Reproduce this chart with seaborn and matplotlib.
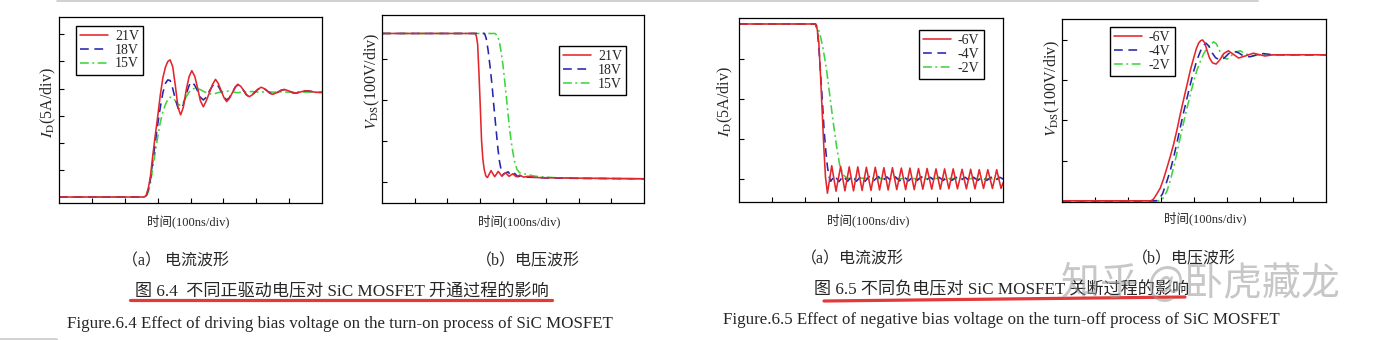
import matplotlib
matplotlib.use("Agg")
import matplotlib.pyplot as plt
import seaborn as sns
from matplotlib.lines import Line2D

# ---------------- data (time in 100 ns divisions, signal in divisions) ----------------
labels_on = ["21V", "18V", "15V"]
labels_off = ["-6V", "-4V", "-2V"]

# Fig 6.4 (a) turn-on drain current I_D (5 A/div)
t_a = [0, 2.60, 2.66, 2.72, 2.78, 2.85, 2.92, 3.00, 3.08, 3.16,
       3.24, 3.31, 3.38, 3.46, 3.54, 3.62, 3.70, 3.78, 3.87, 3.96,
       4.04, 4.13, 4.22, 4.30, 4.39, 4.48, 4.57, 4.67, 4.76, 4.84,
       4.93, 5.02, 5.10, 5.18, 5.27, 5.36, 5.44, 5.53, 5.62, 5.70,
       5.79, 5.88, 5.97, 6.06, 6.15, 6.24, 6.33, 6.41, 6.50, 6.59,
       6.68, 6.76, 6.85, 6.93, 7.02, 7.10, 7.18, 7.27, 7.36, 7.45,
       7.54, 7.65, 7.77, 7.88, 8.00]
id_on_21 = [0, 0, 0.08, 0.35, 0.75, 1.5, 2.2, 2.95, 3.75, 4.4,
            4.8, 5.0, 5.06, 4.8, 4.1, 3.3, 3.03, 3.3, 3.95, 4.45,
            4.66, 4.45, 4.0, 3.55, 3.33, 3.55, 3.83, 4.15, 4.34, 4.2,
            3.93, 3.66, 3.52, 3.63, 3.84, 4.05, 4.16, 4.08, 3.93, 3.77,
            3.70, 3.77, 3.88, 3.98, 4.05, 4.0, 3.92, 3.83, 3.79, 3.83,
            3.88, 3.94, 3.97, 3.94, 3.9, 3.85, 3.83, 3.85, 3.88, 3.91,
            3.92, 3.9, 3.87, 3.86, 3.86]
id_on_18 = [0, 0, 0.06, 0.3, 0.65, 1.3, 1.95, 2.65, 3.3, 3.85,
            4.2, 4.32, 4.3, 4.0, 3.6, 3.28, 3.22, 3.4, 3.8, 4.12,
            4.25, 4.12, 3.9, 3.68, 3.58, 3.68, 3.9, 4.1, 4.19, 4.1,
            3.9, 3.68, 3.58, 3.66, 3.85, 4.05, 4.14, 4.06, 3.92, 3.77,
            3.70, 3.77, 3.88, 3.98, 4.04, 4.0, 3.92, 3.84, 3.79, 3.83,
            3.88, 3.94, 3.96, 3.94, 3.9, 3.85, 3.83, 3.85, 3.88, 3.91,
            3.92, 3.9, 3.87, 3.86, 3.86]
id_on_15 = [0, 0, 0.03, 0.2, 0.5, 1.05, 1.6, 2.2, 2.75, 3.15,
            3.42, 3.6, 3.68, 3.66, 3.55, 3.42, 3.38, 3.48, 3.7, 3.87,
            3.97, 4.01, 4.0, 3.96, 3.9, 3.85, 3.81, 3.8, 3.82, 3.85,
            3.88, 3.9, 3.91, 3.9, 3.88, 3.86, 3.85, 3.86, 3.87, 3.88,
            3.89, 3.89, 3.88, 3.87, 3.87, 3.88, 3.88, 3.88, 3.87, 3.87,
            3.88, 3.88, 3.88, 3.87, 3.87, 3.87, 3.88, 3.88, 3.87, 3.87,
            3.87, 3.87, 3.86, 3.86, 3.86]

# Fig 6.4 (b) turn-on drain-source voltage V_DS (100 V/div)
t_von_21 = [0, 2.84, 2.88, 2.92, 2.96, 3.00, 3.04, 3.08, 3.12, 3.17, 3.22,
            3.33, 3.44, 3.55, 3.66, 3.77, 3.88, 3.99, 4.10, 4.21, 4.32, 4.45,
            4.70, 5.50, 8.00]
vds_on_21 = [3.61, 3.61, 3.55, 3.35, 2.65, 1.85, 1.0, 0.55, 0.3, 0.14, 0.1,
             0.27, 0.12, 0.25, 0.13, 0.22, 0.13, 0.19, 0.12, 0.16, 0.11, 0.13,
             0.1, 0.09, 0.07]
t_von_18 = [0, 3.13, 3.18, 3.24, 3.30, 3.36, 3.42, 3.48, 3.54, 3.59, 3.64,
            3.69, 3.75, 3.85, 3.95, 4.05, 4.15, 4.27, 4.45, 5.0, 6.0, 8.0]
vds_on_18 = [3.61, 3.61, 3.5, 3.2, 2.8, 2.35, 1.8, 1.3, 0.8, 0.48, 0.28,
             0.18, 0.2, 0.24, 0.14, 0.2, 0.12, 0.15, 0.11, 0.09, 0.08, 0.07]
t_von_15 = [0, 3.45, 3.52, 3.58, 3.64, 3.70, 3.76, 3.82, 3.88, 3.94,
            4.00, 4.06, 4.12, 4.20, 4.30, 4.45, 4.70, 5.20, 6.0, 8.0]
vds_on_15 = [3.61, 3.61, 3.56, 3.42, 3.15, 2.8, 2.35, 1.88, 1.4, 1.0,
             0.7, 0.45, 0.3, 0.22, 0.2, 0.17, 0.13, 0.1, 0.08, 0.07]

# Fig 6.5 (a) turn-off drain current I_D (5 A/div)
t_ioff_6 = [0, 2.32, 2.37, 2.42, 2.47, 2.52, 2.57, 2.62,
            2.68, 2.81, 2.94, 3.08, 3.21, 3.34, 3.47, 3.60, 3.73, 3.86,
            4.00, 4.13, 4.26, 4.39, 4.52, 4.65, 4.78, 4.92, 5.05, 5.18,
            5.31, 5.44, 5.57, 5.70, 5.84, 5.97, 6.10, 6.23, 6.36, 6.49,
            6.62, 6.76, 6.89, 7.02, 7.15, 7.28, 7.41, 7.54, 7.68, 7.81,
            7.94, 8.00]
id_off_6 = [3.88, 3.88, 3.75, 3.4, 2.6, 1.7, 0.8, 0.05,
            -0.36, 0.33, -0.31, 0.31, -0.30, 0.30, -0.30, 0.30, -0.29, 0.29,
            -0.29, 0.29, -0.28, 0.28, -0.28, 0.28, -0.27, 0.27, -0.27, 0.27,
            -0.27, 0.26, -0.26, 0.26, -0.26, 0.25, -0.26, 0.25, -0.25, 0.25,
            -0.25, 0.24, -0.25, 0.24, -0.25, 0.23, -0.24, 0.23, -0.24, 0.23,
            -0.24, -0.10]
t_ioff_4 = [0, 2.32, 2.37, 2.42, 2.47, 2.53, 2.58, 2.63, 2.68, 2.73, 2.78,
            2.90, 3.03, 3.16, 3.29, 3.43, 3.56, 3.69, 3.82, 3.95, 4.08,
            4.22, 4.35, 4.48, 4.61, 4.74, 4.87, 5.00, 5.14, 5.27, 5.40,
            5.53, 5.66, 5.79, 5.93, 6.06, 6.19, 6.32, 6.45, 6.58, 6.72,
            6.85, 6.98, 7.11, 7.24, 7.37, 7.51, 7.64, 7.77, 7.90, 8.00]
id_off_4 = [3.88, 3.88, 3.74, 3.3, 2.65, 1.9, 1.2, 0.7, 0.3, 0.05, -0.06,
            0.08, -0.07, 0.07, -0.06, 0.07, -0.06, 0.06, -0.06, 0.06, -0.05,
            0.06, -0.05, 0.05, -0.05, 0.05, -0.05, 0.05, -0.05, 0.05, -0.04,
            0.05, -0.04, 0.04, -0.04, 0.04, -0.04, 0.04, -0.04, 0.04, -0.04,
            0.04, -0.04, 0.04, -0.04, 0.04, -0.04, 0.04, -0.04, 0.04, 0.0]
t_ioff_2 = [0, 2.30, 2.36, 2.40, 2.45, 2.55, 2.65, 2.75, 2.85, 2.95,
            3.05, 3.15, 3.25, 3.40, 3.60, 4.5, 6.0, 8.0]
id_off_2 = [3.88, 3.88, 3.84, 3.76, 3.64, 3.25, 2.75, 2.1, 1.45, 0.85,
            0.35, 0.11, 0.03, 0.0, 0.02, 0.0, 0.01, 0.0]

# Fig 6.5 (b) turn-off drain-source voltage V_DS (100 V/div)
t_voff_6 = [0, 2.70, 2.78, 2.88, 2.98, 3.08, 3.18, 3.28, 3.38, 3.48,
            3.58, 3.68, 3.79, 3.89, 3.99, 4.07, 4.14, 4.20, 4.26, 4.33,
            4.39, 4.47, 4.56, 4.67, 4.78, 4.90, 5.04, 5.18, 5.35, 5.55,
            5.80, 6.00, 6.15, 6.40, 8.00]
vds_off_6 = [0, 0, 0.05, 0.18, 0.32, 0.55, 0.82, 1.1, 1.4, 1.75,
             2.14, 2.5, 2.89, 3.25, 3.55, 3.78, 3.92, 3.98, 4.0, 3.92,
             3.75, 3.55, 3.43, 3.40, 3.5, 3.66, 3.73, 3.65, 3.55, 3.6,
             3.67, 3.63, 3.6, 3.63, 3.63]
t_voff_4 = [0, 2.85, 2.95, 3.05, 3.18, 3.28, 3.38, 3.48, 3.58, 3.68,
            3.79, 3.89, 3.99, 4.09, 4.19, 4.27, 4.36, 4.45, 4.55, 4.65,
            4.78, 4.92, 5.05, 5.20, 5.35, 5.50, 5.70, 5.90, 6.10, 6.40, 8.00]
vds_off_4 = [0, 0, 0.05, 0.18, 0.49, 0.75, 1.07, 1.43, 1.81, 2.18,
             2.56, 2.9, 3.22, 3.5, 3.71, 3.85, 3.92, 3.85, 3.68, 3.56,
             3.5, 3.55, 3.66, 3.72, 3.68, 3.6, 3.58, 3.63, 3.66, 3.63, 3.63]
t_voff_2 = [0, 2.95, 3.05, 3.18, 3.28, 3.38, 3.48, 3.58, 3.68, 3.79,
            3.89, 3.99, 4.09, 4.19, 4.29, 4.39, 4.50, 4.60, 4.68, 4.78,
            4.90, 5.00, 5.12, 5.25, 5.40, 5.55, 5.75, 6.00, 8.00]
vds_off_2 = [0, 0, 0.05, 0.24, 0.5, 0.82, 1.18, 1.56, 1.93, 2.31,
             2.65, 2.97, 3.25, 3.46, 3.65, 3.79, 3.9, 3.95, 3.9, 3.72,
             3.56, 3.52, 3.6, 3.7, 3.73, 3.66, 3.6, 3.63, 3.63]

# ---------------- style ----------------
sns.set_style("white")
plt.rcParams["font.family"] = ["Liberation Serif", "Noto Sans CJK SC", "DejaVu Sans"]
plt.rcParams["mathtext.fontset"] = "stix"

W, H = 1380, 340
fig = plt.figure(figsize=(W / 100, H / 100), dpi=100, facecolor="white")

def fx(x):
    return x / W

def fy(y):
    return 1 - y / H

def axes_px(x0, y0, x1, y1):
    return fig.add_axes([fx(x0), fy(y1), (x1 - x0) / W, (y1 - y0) / H])

RED, BLUE, GREEN = "#e3262b", "#2525ad", "#3ed43e"
colors = [RED, BLUE, GREEN]
styles = ["-", (0, (5.5, 3.5)), (0, (5.5, 2.2, 1.2, 2.2))]
CJK = ["Liberation Serif", "Noto Sans CJK SC"]

def panel(box, series, labels, ylim, yticks, leg_anchor):
    ax = axes_px(*box)
    # draw green, blue, red so red ends on top
    for i in [2, 1, 0]:
        t, v = series[i]
        sns.lineplot(x=t, y=v, ax=ax, color=colors[i], linestyle=styles[i],
                     lw=1.15, estimator=None, sort=False, legend=False)
    lines = ax.get_lines()
    handles = [lines[2], lines[1], lines[0]]
    ax.set_xlim(0, 8)
    ax.set_ylim(*ylim)
    ax.set_xticks(range(1, 8))
    ax.set_yticks(yticks)
    ax.set_xlabel("")
    ax.set_ylabel("")
    ax.tick_params(direction="in", length=3.5, width=0.8, color="black",
                   labelbottom=False, labelleft=False, bottom=True, left=True,
                   top=False, right=False)
    for s in ax.spines.values():
        s.set_color("black")
        s.set_linewidth(0.9)
    leg = ax.legend(handles, labels, loc="upper left", bbox_to_anchor=leg_anchor,
                    borderaxespad=0, frameon=True, fancybox=False, edgecolor="black",
                    framealpha=1, prop={"family": "Liberation Serif", "size": 10},
                    handlelength=2.0, handletextpad=0.5, labelspacing=0.05,
                    borderpad=0.3)
    leg.get_frame().set_linewidth(1.0)
    return ax

panel((59, 17, 322, 203),
      [(t_a, id_on_21), (t_a, id_on_18), (t_a, id_on_15)], labels_on,
      (-0.22, 6.64), [1, 2, 3, 4, 5, 6], (0.065, 0.952))
panel((382, 15, 644, 203),
      [(t_von_21, vds_on_21), (t_von_18, vds_on_18), (t_von_15, vds_on_15)], labels_on,
      (-0.52, 4.06), [0, 1, 2, 3], (0.676, 0.835))
panel((739, 18, 1003, 202),
      [(t_ioff_6, id_off_6), (t_ioff_4, id_off_4), (t_ioff_2, id_off_2)], labels_off,
      (-0.58, 4.03), [0, 1, 2, 3], (0.682, 0.935))
panel((1062, 19, 1326, 202),
      [(t_voff_6, vds_off_6), (t_voff_4, vds_off_4), (t_voff_2, vds_off_2)], labels_off,
      (-0.03, 4.52), [1, 2, 3, 4], (0.182, 0.956))

# axis labels
ylab_I = r"$I_{\mathrm{D}}$(5A/div)"
ylab_V = r"$V_{\mathrm{DS}}$(100V/div)"
for (x, y, s) in [(48, 103, ylab_I), (372, 81, ylab_V), (725, 102, ylab_I), (1052, 88, ylab_V)]:
    fig.text(fx(x), fy(y), s, rotation=90, ha="center", va="center", fontsize=11.5)
for (x, y) in [(188, 221), (519, 221), (868, 220), (1205, 218)]:
    fig.text(fx(x), fy(y), "时间(100ns/div)", ha="center", va="center", fontsize=9,
             family=CJK)

# sub captions
for (x, y, s) in [(175, 261, "（a） 电流波形"), (528, 261, "（b）电压波形"),
                  (852, 259, "（a）电流波形"), (1184, 259, "（b）电压波形")]:
    fig.text(fx(x), fy(y), s, ha="center", va="center", fontsize=11.5, family=CJK)

# figure captions
fig.text(fx(342), fy(292), "图 6.4  不同正驱动电压对 SiC MOSFET 开通过程的影响",
         ha="center", va="center", fontsize=12.3, family=CJK)
fig.text(fx(1002), fy(290), "图 6.5 不同负电压对 SiC MOSFET 关断过程的影响",
         ha="center", va="center", fontsize=12.3, family=CJK)
fig.text(fx(340), fy(323.5),
         "Figure.6.4 Effect of driving bias voltage on the turn-on process of SiC MOSFET",
         ha="center", va="center", fontsize=12.2, family="Liberation Serif")
fig.text(fx(1001), fy(320),
         "Figure.6.5 Effect of negative bias voltage on the turn-off process of SiC MOSFET",
         ha="center", va="center", fontsize=12.2, family="Liberation Serif")

# red hand-drawn underlines
fig.add_artist(Line2D([fx(130), fx(552)], [fy(300), fy(300)], color="#e23a3a",
                      lw=2.3, solid_capstyle="round"))
fig.add_artist(Line2D([fx(824), fx(1185)], [fy(301), fy(297)], color="#e23a3a",
                      lw=2.3, solid_capstyle="round"))

# page edge lines
fig.add_artist(Line2D([fx(57), fx(1258)], [fy(0.8), fy(0.8)], color="#c8c8c8", lw=1.2))
fig.add_artist(Line2D([fx(0), fx(56)], [fy(338.5), fy(338.5)], color="#d0d0d0", lw=2))

# watermark
fig.text(fx(1200), fy(284), "知乎 @卧虎藏龙", ha="center", va="center", fontsize=28,
         family=["Noto Sans CJK SC"], color="#9a9a9a", alpha=0.55, zorder=10)

fig.savefig("out.png", dpi=100, facecolor="white")
